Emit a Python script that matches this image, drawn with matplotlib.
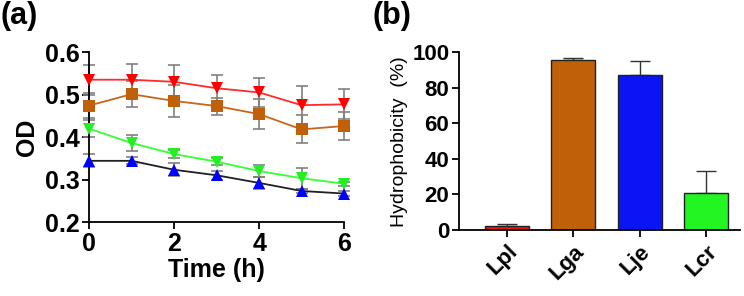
import matplotlib
matplotlib.use('Agg')
import matplotlib.pyplot as plt
import numpy as np

plt.rcParams['font.family'] = 'Liberation Sans'

# --- Panel (a): OD over time ---
time_h = [0, 1, 2, 3, 4, 5, 6]

od_red = [0.535, 0.535, 0.530, 0.515, 0.505, 0.475, 0.477]
err_red = [0.035, 0.036, 0.040, 0.030, 0.035, 0.045, 0.035]

od_orange = [0.474, 0.501, 0.485, 0.473, 0.454, 0.418, 0.426]
err_orange = [0.030, 0.030, 0.037, 0.020, 0.035, 0.033, 0.033]

od_green = [0.420, 0.386, 0.360, 0.342, 0.320, 0.303, 0.290]
err_green = [0.020, 0.018, 0.010, 0.008, 0.015, 0.025, 0.005]

od_blue = [0.344, 0.344, 0.323, 0.310, 0.292, 0.273, 0.267]
err_blue = [0.015, 0.008, 0.015, 0.010, 0.015, 0.005, 0.005]

# --- Panel (b): hydrophobicity ---
strains = ['Lpl', 'Lga', 'Lje', 'Lcr']
hydro = [2.5, 95.5, 87.0, 21.0]
hydro_err = [1.0, 1.5, 8.0, 12.0]
bar_colors = ['#ee1111', '#c06008', '#0a14f5', '#22f522']

fig = plt.figure(figsize=(7.44, 2.96), dpi=100)

# ---------- (a) ----------
ax1 = fig.add_axes([0.1196, 0.25, 0.343, 0.574])
series = [
    (od_red, err_red, '#ff2a2a', '#ff0000', 'v'),
    (od_orange, err_orange, '#c8661a', '#c06008', 's'),
    (od_green, err_green, '#33ff33', '#22ee22', 'v'),
    (od_blue, err_blue, '#202020', '#0000ff', '^'),
]
for y, e, lc, mc, m in series:
    ax1.errorbar(time_h, y, yerr=e, fmt='none', ecolor='#808080',
                 elinewidth=1.2, capsize=4, capthick=1.2, clip_on=False, zorder=2)
    ax1.plot(time_h, y, '-', color=lc, lw=1.3, clip_on=False, zorder=3)
    ax1.plot(time_h, y, m, color=mc, markersize=8, markeredgewidth=0,
             clip_on=False, zorder=4)

ax1.set_xlim(0, 6)
ax1.set_ylim(0.2, 0.6)
ax1.set_xticks([0, 2, 4, 6])
ax1.set_yticks([0.2, 0.3, 0.4, 0.5, 0.6])
ax1.set_yticklabels(['0.2', '0.3', '0.4', '0.5', '0.6'])
ax1.spines['top'].set_visible(False)
ax1.spines['right'].set_visible(False)
for s in ['left', 'bottom']:
    ax1.spines[s].set_linewidth(1.3)
ax1.tick_params(width=1.3, length=5, labelsize=18, pad=2)
for lbl in ax1.get_xticklabels() + ax1.get_yticklabels():
    lbl.set_fontweight('bold')
ax1.set_xlabel('Time (h)', fontsize=18, fontweight='bold', labelpad=2)
ax1.set_ylabel('OD', fontsize=18, fontweight='bold', labelpad=4)
fig.text(0.0, 0.995, '(a)', fontsize=22, fontweight='bold', va='top', ha='left')

# ---------- (b) ----------
ax2 = fig.add_axes([0.617, 0.223, 0.378, 0.600])
xpos = np.arange(len(strains))
ax2.bar(xpos, hydro, width=0.66, color=bar_colors, edgecolor='#222222',
        linewidth=1.0, zorder=2)
ax2.errorbar(xpos, hydro, yerr=[np.zeros(len(hydro)), hydro_err], fmt='none',
             ecolor='#333333', elinewidth=1.0, capsize=7, capthick=1.0, zorder=1)
ax2.set_xlim(-0.72, 3.51)
ax2.set_ylim(0, 100)
ax2.set_yticks([0, 20, 40, 60, 80, 100])
ax2.set_xticks(xpos)
ax2.set_xticklabels(strains, rotation=45, ha='right', rotation_mode='anchor')
ax2.spines['top'].set_visible(False)
ax2.spines['right'].set_visible(False)
for s in ['left', 'bottom']:
    ax2.spines[s].set_linewidth(1.3)
ax2.tick_params(axis='x', width=1.3, length=5, labelsize=16, pad=3)
ax2.tick_params(axis='y', width=1.3, length=5, labelsize=16, pad=2)
for lbl in ax2.get_xticklabels() + ax2.get_yticklabels():
    lbl.set_fontweight('bold')
ax2.set_ylabel('Hydrophobicity  (%)', fontsize=14, labelpad=3)
fig.text(0.500, 0.995, '(b)', fontsize=22, fontweight='bold', va='top', ha='left')

fig.savefig('out.png', dpi=100)
